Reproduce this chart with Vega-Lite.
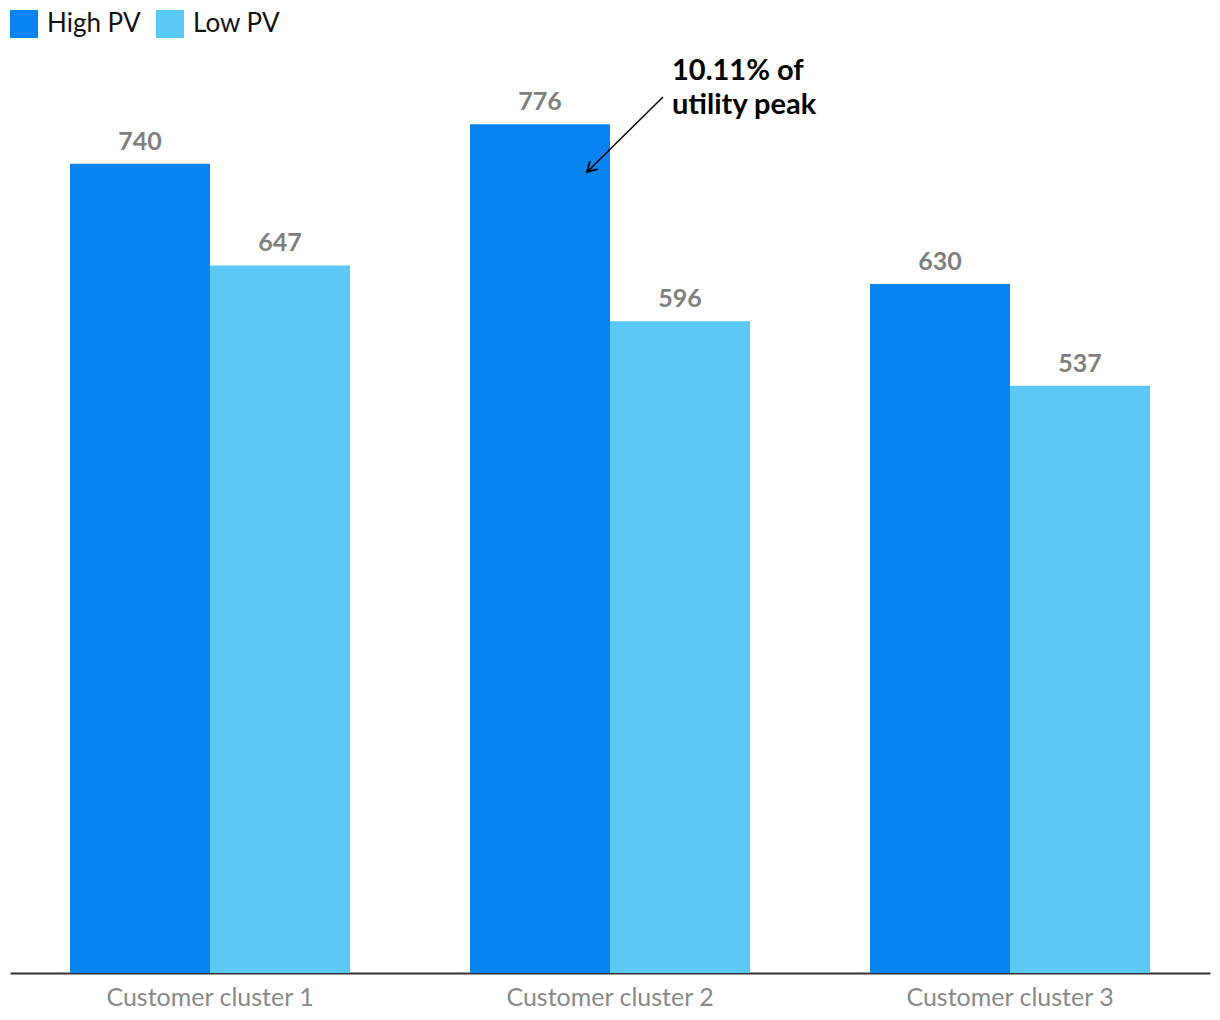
{
  "$schema": "https://vega.github.io/schema/vega-lite/v6.json",
  "autosize": {"type": "none"},
  "width": 1200,
  "height": 923,
  "padding": {"left": 10, "top": 50, "right": 10, "bottom": 47},
  "background": "white",
  "config": {
    "view": {"stroke": null},
    "font": "Lato"
  },
  "datasets": {
    "bars": [
      {"cluster": "Customer cluster 1", "series": "High PV", "value": 740},
      {"cluster": "Customer cluster 1", "series": "Low PV", "value": 647},
      {"cluster": "Customer cluster 2", "series": "High PV", "value": 776},
      {"cluster": "Customer cluster 2", "series": "Low PV", "value": 596},
      {"cluster": "Customer cluster 3", "series": "High PV", "value": 630},
      {"cluster": "Customer cluster 3", "series": "Low PV", "value": 537}
    ],
    "note": [
      {"tx": 662, "ty": 816.6, "label": "10.11% of\nutility peak", "ax": 653, "ay": 801.1, "bx": 577, "by": 732.5}
    ]
  },
  "layer": [
    {
      "data": {"name": "bars"},
      "layer": [
        {
          "mark": {"type": "bar"},
          "encoding": {
            "x": {"field": "cluster", "type": "nominal", "sort": null,
              "scale": {"paddingInner": 0.3, "paddingOuter": 0.15},
              "axis": {"title": null, "ticks": false, "domainColor": "#333333", "domainWidth": 2,
                "labelColor": "#8a8a8a", "labelFontSize": 25, "labelPadding": 12, "labelAngle": 0, "labelFont": "Lato", "labelLimit": 0}},
            "xOffset": {"field": "series", "type": "nominal", "scale": {"paddingInner": 0, "paddingOuter": 0}},
            "y": {"field": "value", "type": "quantitative", "scale": {"domain": [0, 844], "nice": false}, "axis": null},
            "color": {"field": "series", "type": "nominal",
              "scale": {"domain": ["High PV", "Low PV"], "range": ["#0784F2", "#5BC8F5"]},
              "legend": {"title": null, "orient": "none", "legendX": 0, "legendY": -40, "direction": "horizontal",
                "symbolType": "square", "symbolSize": 784, "symbolStrokeWidth": 0, "labelFontSize": 26,
                "labelColor": "#111111", "labelFont": "Lato", "labelOffset": 9, "columnPadding": 15, "symbolOpacity": 1}}
          }
        },
        {
          "mark": {"type": "text", "baseline": "alphabetic", "dy": -14, "fontSize": 25, "fontWeight": "bold", "color": "#808080", "font": "Lato"},
          "encoding": {
            "x": {"field": "cluster", "type": "nominal", "sort": null},
            "xOffset": {"field": "series", "type": "nominal"},
            "y": {"field": "value", "type": "quantitative"},
            "text": {"field": "value", "type": "quantitative"}
          }
        }
      ]
    },
    {
      "data": {"name": "note"},
      "layer": [
        {
          "mark": {"type": "text", "align": "left", "baseline": "alphabetic", "fontSize": 29, "fontWeight": "bold", "color": "#000000", "lineBreak": "\n", "lineHeight": 34, "font": "Lato"},
          "encoding": {
            "x": {"field": "tx", "type": "quantitative", "scale": {"domain": [0, 1200], "nice": false, "zero": false}, "axis": null},
            "y": {"field": "ty", "type": "quantitative"},
            "text": {"field": "label"}
          }
        },
        {
          "mark": {"type": "rule", "color": "#000000", "strokeWidth": 1.5},
          "encoding": {
            "x": {"field": "ax", "type": "quantitative", "scale": {"domain": [0, 1200], "nice": false, "zero": false}, "axis": null},
            "y": {"field": "ay", "type": "quantitative"},
            "x2": {"field": "bx"},
            "y2": {"field": "by"}
          }
        },
        {
          "mark": {"type": "point", "shape": "M 0.966 -0.259 L 0 0 L 0.259 -0.966", "filled": false, "size": 500, "strokeWidth": 1.8, "color": "#000000", "opacity": 1},
          "encoding": {
            "x": {"field": "bx", "type": "quantitative", "scale": {"domain": [0, 1200], "nice": false, "zero": false}, "axis": null},
            "y": {"field": "by", "type": "quantitative"}
          }
        }
      ]
    }
  ],
  "resolve": {"scale": {"x": "independent"}, "axis": {"x": "independent"}}
}
